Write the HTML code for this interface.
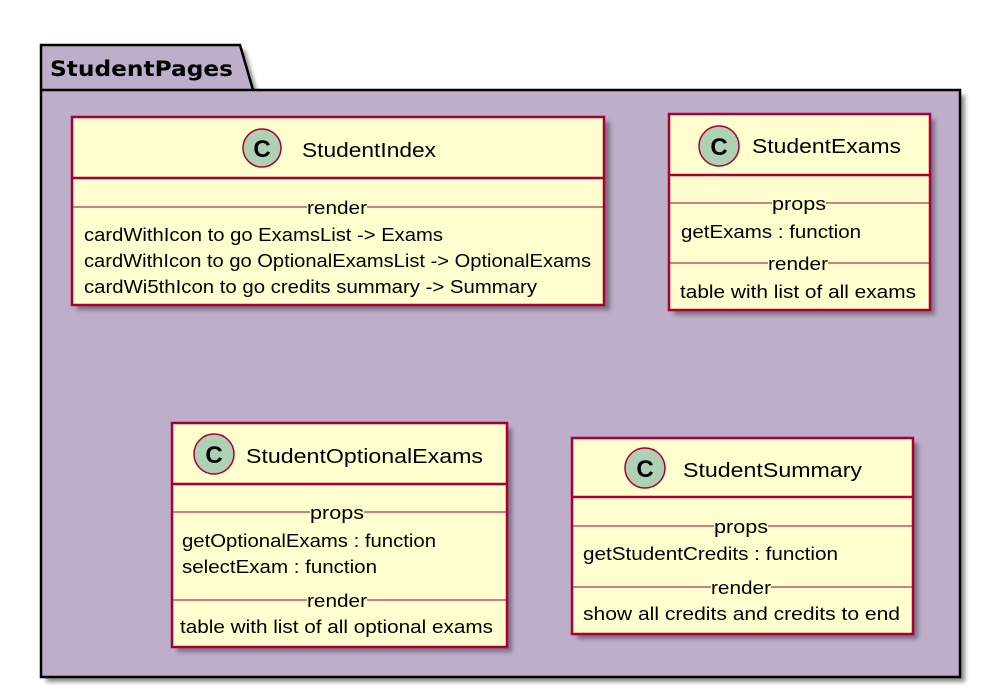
<!DOCTYPE html>
<html><head><meta charset="utf-8"><style>html,body{margin:0;padding:0;background:#fff}svg{display:block}</style></head>
<body>
<svg width="999" height="697" viewBox="0 0 999 697" xmlns="http://www.w3.org/2000/svg" font-family="Liberation Sans, sans-serif">
<defs>
<filter id="sh" x="-10%" y="-10%" width="130%" height="130%"><feGaussianBlur stdDeviation="2"/></filter>
</defs>
<g opacity="0.45" filter="url(#sh)" transform="translate(5,5)">
<path d="M41,45 L240,45 L253,90 L960,90 L960,677 L41,677 Z" fill="#000"/>
</g>
<path d="M41,45 L240,45 L253,90 L960,90 L960,677 L41,677 Z" fill="#BDAEC9" stroke="#000" stroke-width="2.5"/>
<line x1="41" y1="90" x2="253" y2="90" stroke="#000" stroke-width="2.5"/>
<text x="50" y="76" font-family="DejaVu Sans, sans-serif" font-weight="bold" font-size="21" textLength="183" lengthAdjust="spacingAndGlyphs">StudentPages</text>

<g stroke="#A80036">
<g opacity="0.35" filter="url(#sh)" stroke="none" fill="#000">
<rect x="77" y="122" width="533" height="188"/>
<rect x="674" y="119" width="261" height="196"/>
<rect x="177" y="428" width="335" height="224"/>
<rect x="577" y="443" width="341" height="196"/>
</g>
<rect x="72" y="117" width="532" height="188" fill="#FEFECE" stroke-width="2.5"/>
<line x1="72" y1="178" x2="604" y2="178" stroke-width="2.5"/>
<line x1="72" y1="207" x2="604" y2="207" stroke-width="1"/>
<circle cx="262" cy="148" r="19" fill="#ADD1B2" stroke-width="1.5"/>
<rect x="669" y="114" width="261" height="196" fill="#FEFECE" stroke-width="2.5"/>
<line x1="669" y1="175" x2="930" y2="175" stroke-width="2.5"/>
<line x1="669" y1="203" x2="930" y2="203" stroke-width="1"/>
<line x1="669" y1="263" x2="930" y2="263" stroke-width="1"/>
<circle cx="719" cy="146" r="20" fill="#ADD1B2" stroke-width="1.5"/>
<rect x="172" y="423" width="335" height="224" fill="#FEFECE" stroke-width="2.5"/>
<line x1="172" y1="484" x2="507" y2="484" stroke-width="2.5"/>
<line x1="172" y1="512" x2="507" y2="512" stroke-width="1"/>
<line x1="172" y1="600" x2="507" y2="600" stroke-width="1"/>
<circle cx="214" cy="454" r="20" fill="#ADD1B2" stroke-width="1.5"/>
<rect x="572" y="438" width="341" height="196" fill="#FEFECE" stroke-width="2.5"/>
<line x1="572" y1="497" x2="913" y2="497" stroke-width="2.5"/>
<line x1="572" y1="526" x2="913" y2="526" stroke-width="1"/>
<line x1="572" y1="587" x2="913" y2="587" stroke-width="1"/>
<circle cx="645" cy="468" r="20" fill="#ADD1B2" stroke-width="1.5"/>
</g>

<g font-weight="bold" font-size="24" text-anchor="middle" fill="#000">
<text x="262" y="157">C</text>
<text x="719" y="155">C</text>
<text x="214" y="463">C</text>
<text x="645" y="477">C</text>
</g>

<g fill="#000" font-size="20">
<text x="302" y="157" textLength="134" lengthAdjust="spacingAndGlyphs">StudentIndex</text>
<text x="752" y="153" textLength="149" lengthAdjust="spacingAndGlyphs">StudentExams</text>
<text x="246" y="463" textLength="237" lengthAdjust="spacingAndGlyphs">StudentOptionalExams</text>
<text x="683" y="477" textLength="179" lengthAdjust="spacingAndGlyphs">StudentSummary</text>
</g>

<g fill="#000" font-size="18">
<rect x="307" y="198" width="60" height="16" fill="#FEFECE"/>
<text x="307" y="214" textLength="60" lengthAdjust="spacingAndGlyphs">render</text>
<text x="84" y="241" textLength="359" lengthAdjust="spacingAndGlyphs">cardWithIcon to go ExamsList -&gt; Exams</text>
<text x="84" y="267" textLength="507" lengthAdjust="spacingAndGlyphs">cardWithIcon to go OptionalExamsList -&gt; OptionalExams</text>
<text x="84" y="293" textLength="453" lengthAdjust="spacingAndGlyphs">cardWi5thIcon to go credits summary -&gt; Summary</text>

<rect x="772" y="195" width="54" height="16" fill="#FEFECE"/>
<text x="772" y="210" textLength="54" lengthAdjust="spacingAndGlyphs">props</text>
<text x="681" y="238" textLength="180" lengthAdjust="spacingAndGlyphs">getExams : function</text>
<rect x="768" y="255" width="60" height="16" fill="#FEFECE"/>
<text x="768" y="270" textLength="60" lengthAdjust="spacingAndGlyphs">render</text>
<text x="680" y="298" textLength="236" lengthAdjust="spacingAndGlyphs">table with list of all exams</text>

<rect x="310" y="504" width="54" height="16" fill="#FEFECE"/>
<text x="310" y="519" textLength="54" lengthAdjust="spacingAndGlyphs">props</text>
<text x="182" y="547" textLength="254" lengthAdjust="spacingAndGlyphs">getOptionalExams : function</text>
<text x="182" y="573" textLength="195" lengthAdjust="spacingAndGlyphs">selectExam : function</text>
<rect x="307" y="592" width="60" height="16" fill="#FEFECE"/>
<text x="307" y="607" textLength="60" lengthAdjust="spacingAndGlyphs">render</text>
<text x="180" y="633" textLength="313" lengthAdjust="spacingAndGlyphs">table with list of all optional exams</text>

<rect x="714" y="518" width="54" height="16" fill="#FEFECE"/>
<text x="714" y="533" textLength="54" lengthAdjust="spacingAndGlyphs">props</text>
<text x="583" y="560" textLength="255" lengthAdjust="spacingAndGlyphs">getStudentCredits : function</text>
<rect x="711" y="579" width="60" height="16" fill="#FEFECE"/>
<text x="711" y="594" textLength="60" lengthAdjust="spacingAndGlyphs">render</text>
<text x="583" y="620" textLength="317" lengthAdjust="spacingAndGlyphs">show all credits and credits to end</text>
</g>
</svg>
</body></html>
